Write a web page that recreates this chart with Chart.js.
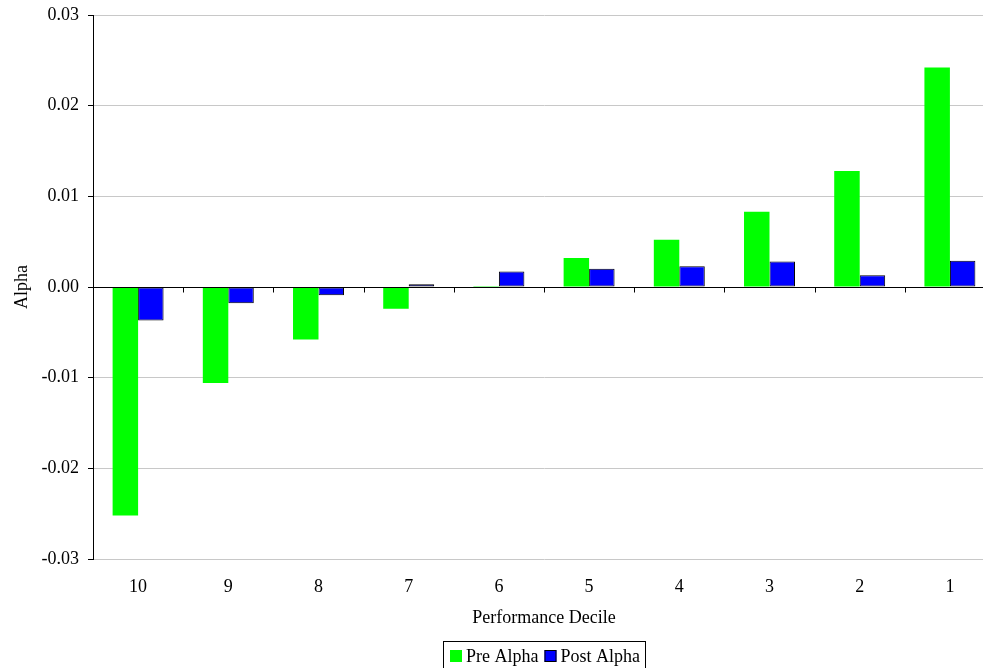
<!DOCTYPE html>
<html>
<head>
<meta charset="utf-8">
<script src="https://cdn.jsdelivr.net/npm/chart.js@4.4.0/dist/chart.umd.min.js"></script>
<style>
html,body{margin:0;padding:0;overflow:hidden;background:#fff;}
#wrap{width:1000px;height:668px;position:relative;}
</style>
</head>
<body>
<div id="wrap"><canvas id="c" width="1000" height="668"></canvas></div>
<script>
const categories = ['10','9','8','7','6','5','4','3','2','1'];
const preAlpha  = [-0.0252, -0.0106, -0.0058, -0.0024, 0.0001, 0.0032, 0.0052, 0.0083, 0.0128, 0.0242];
const postAlpha = [-0.0037, -0.0018, -0.0009, 0.0003, 0.0017, 0.0020, 0.0023, 0.0028, 0.0013, 0.0029];
const seriesNames = ['Pre Alpha', 'Post Alpha'];
const yMin = -0.03, yMax = 0.03, yStep = 0.01;

const FONT = '"Liberation Serif", "Times New Roman", serif';

const zeroTicks = {
  id: 'zeroTicks',
  afterDatasetsDraw(chart) {
    const {ctx, chartArea, scales: {x, y}} = chart;
    const y0 = Math.round(y.getPixelForValue(0)) + 0.5;
    ctx.save();
    ctx.strokeStyle = '#000';
    ctx.lineWidth = 1;
    ctx.beginPath();
    ctx.moveTo(chartArea.left, y0);
    ctx.lineTo(chartArea.right, y0);
    ctx.stroke();
    const n = chart.data.labels.length;
    const w = x.getPixelForValue(1) - x.getPixelForValue(0);
    for (let i = 0; i < n; i++) {
      const px = Math.round(x.getPixelForValue(i) + w / 2) + 0.5;
      ctx.beginPath();
      ctx.moveTo(px, y0);
      ctx.lineTo(px, y0 + 5);
      ctx.stroke();
    }
    ctx.restore();
  }
};

const boxLegend = {
  id: 'boxLegend',
  afterDraw(chart) {
    const {ctx, chartArea} = chart;
    ctx.save();
    ctx.font = '18px ' + FONT;
    const ds = chart.data.datasets;
    const sw = 12, gap = 4, between = 6, padL = 7, padR = 5;
    const tw = ds.map(d => ctx.measureText(d.label).width);
    let total = padL + padR;
    ds.forEach((d, i) => { total += sw + gap + tw[i] + (i < ds.length - 1 ? between : 0); });
    const cx = (chartArea.left + chartArea.right) / 2;
    const left = Math.round(cx - total / 2) + 0.5;
    const top = 641.5;
    ctx.strokeStyle = '#000';
    ctx.lineWidth = 1;
    ctx.strokeRect(left, top, Math.round(total), 40);
    let xx = left + padL - 0.5;
    ds.forEach((d, i) => {
      ctx.fillStyle = d.backgroundColor;
      ctx.fillRect(xx, 650, sw, sw);
      if (d.borderWidth) {
        ctx.strokeStyle = '#000';
        ctx.strokeRect(xx + 0.5, 650.5, sw - 1, sw - 1);
      }
      xx += sw + gap;
      ctx.fillStyle = '#000';
      ctx.textBaseline = 'alphabetic';
      ctx.textAlign = 'left';
      ctx.fillText(d.label, xx, 662);
      xx += tw[i] + between;
    });
    ctx.restore();
  }
};

new Chart(document.getElementById('c'), {
  type: 'bar',
  data: {
    labels: categories,
    datasets: [
      { label: seriesNames[0], data: preAlpha, backgroundColor: '#00FF00', borderWidth: 0 },
      { label: seriesNames[1], data: postAlpha, backgroundColor: '#0000FF', borderColor: '#000000', borderWidth: 1, borderSkipped: false }
    ]
  },
  options: {
    responsive: false,
    animation: false,
    devicePixelRatio: 1,
    categoryPercentage: 0.565,
    barPercentage: 1.0,
    layout: { padding: { top: 15, right: 5, left: 0, bottom: 0 } },
    plugins: {
      legend: { display: false },
      tooltip: { enabled: false }
    },
    scales: {
      x: {
        offset: true,
        grid: { display: false, drawTicks: false },
        border: { display: false },
        ticks: { color: '#000', font: { family: FONT, size: 18 }, padding: 17, maxRotation: 0 },
        title: { display: true, text: 'Performance Decile', color: '#000', font: { family: FONT, size: 18 }, padding: { top: 8, bottom: 39 } },
        afterFit(s) { s.height = 109; s.paddingLeft = 0; s.paddingRight = 0; }
      },
      y: {
        min: yMin, max: yMax,
        ticks: {
          stepSize: yStep,
          color: '#000',
          font: { family: FONT, size: 18 },
          padding: 9,
          callback: v => Number(v).toFixed(2)
        },
        grid: {
          color: c => (c.tick && Math.abs(c.tick.value) < 1e-9) ? '#000' : '#c8c8c8',
          tickColor: '#000',
          tickLength: 5,
          drawTicks: true
        },
        border: { display: true, color: '#000', width: 1 },
        title: { display: true, text: 'Alpha', color: '#000', font: { family: FONT, size: 18 }, padding: { top: 11, bottom: 0 } },
        afterFit(s) { s.width = 93; s.paddingTop = 0; s.paddingBottom = 0; }
      }
    }
  },
  plugins: [zeroTicks, boxLegend]
});
</script>
</body>
</html>
